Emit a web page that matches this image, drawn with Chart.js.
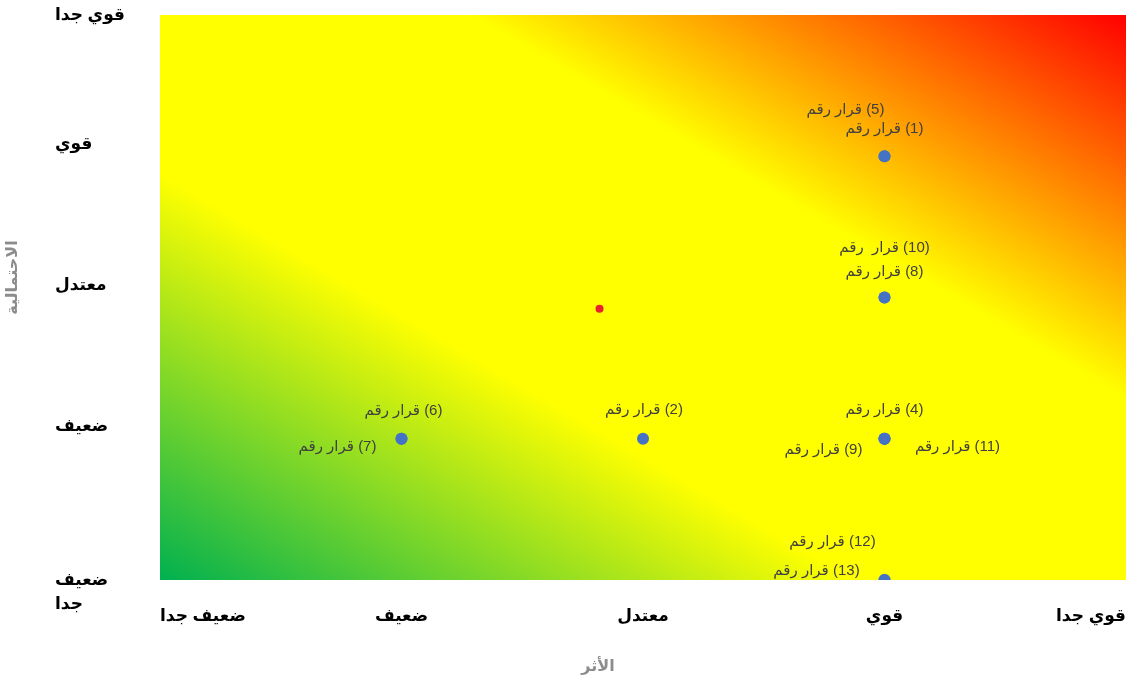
<!DOCTYPE html>
<html lang="ar">
<head>
<meta charset="utf-8">
<script src="https://cdn.jsdelivr.net/npm/chart.js@4/dist/chart.umd.min.js"></script>
<style>
  html, body { margin: 0; padding: 0; background: #ffffff; }
  #wrap { width: 1126px; height: 683px; }
</style>
</head>
<body>
<div id="wrap"><canvas id="c" width="1126" height="683"></canvas></div>
<script>
// ---- data ----
const xTickLabels = ['ضعيف جدا', 'ضعيف', 'معتدل', 'قوي', 'قوي جدا'];
const yTickLabels = ['ضعيف جدا', 'ضعيف', 'معتدل', 'قوي', 'قوي جدا'];
const xTitle = 'الأثر';
const yTitle = 'الاحتمالية';

const decisionLabels = [
  'قرار رقم (1)', 'قرار رقم (2)', 'قرار رقم (4)', 'قرار رقم (5)',
  'قرار رقم (6)', 'قرار رقم (7)', 'قرار رقم (8)', 'قرار رقم (9)',
  'قرار  رقم (10)', 'قرار رقم (11)', 'قرار رقم (12)', 'قرار رقم (13)'
];
const impactValues     = [4, 3, 4, 4, 2, 2, 4, 4, 4, 4, 4, 4];
const likelihoodValues = [4, 2, 2, 4, 2, 2, 3, 2, 3, 2, 1, 1];

const markerImpact = [2.82];
const markerLikelihood = [2.92];

// ---- label layout (pixel offsets of each text from its point) ----
const labelOffsets = [
  [0, -27], [1, -29], [0, -29], [-39, -46],
  [2, -28], [-64, 8], [0, -26], [-61, 11],
  [0, -50], [73, 8], [-52, -38], [-68, -9]
];

const decisionPoints = impactValues.map((x, i) => ({ x: x, y: likelihoodValues[i] }));
const markerPoints = markerImpact.map((x, i) => ({ x: x, y: markerLikelihood[i] }));

const bgPlugin = {
  id: 'riskBackground',
  beforeDatasetsDraw(chart) {
    const { ctx, chartArea: a } = chart;
    const W = a.right - a.left, H = a.bottom - a.top;
    const cx = a.left + W / 2, cy = a.top + H / 2;
    const d = Math.sqrt(W * W + H * H);
    const ux = H / d, uy = -W / d;
    const L = 2 * W * H / d;
    const g = ctx.createLinearGradient(cx - ux * L / 2, cy - uy * L / 2, cx + ux * L / 2, cy + uy * L / 2);
    g.addColorStop(0, '#00b050');
    g.addColorStop(0.36, '#ffff00');
    g.addColorStop(0.66, '#ffff00');
    g.addColorStop(1, '#ff0000');
    ctx.save();
    ctx.fillStyle = g;
    ctx.fillRect(a.left, a.top, W, H);
    ctx.restore();
  }
};

const labelPlugin = {
  id: 'decisionLabels',
  afterDatasetsDraw(chart) {
    const { ctx } = chart;
    const meta = chart.getDatasetMeta(0);
    ctx.save();
    ctx.font = '15px Arial, "Liberation Sans", "DejaVu Sans", sans-serif';
    ctx.fillStyle = '#404040';
    ctx.textAlign = 'center';
    ctx.textBaseline = 'middle';
    ctx.direction = 'ltr';
    meta.data.forEach((pt, i) => {
      const o = labelOffsets[i];
      // LRM keeps the number to the right of the Arabic words, as in the reference
      const txt = decisionLabels[i].replace(' (', ' \u200E(');
      ctx.fillText(txt, pt.x + o[0], pt.y + o[1]);
    });
    ctx.restore();
  }
};

const titlePlugin = {
  id: 'axisTitles',
  afterDraw(chart) {
    const { ctx, chartArea: a } = chart;
    ctx.save();
    ctx.font = 'bold 16px Arial, "Liberation Sans", "DejaVu Sans", sans-serif';
    ctx.fillStyle = '#8c8c8c';
    ctx.textAlign = 'center';
    ctx.textBaseline = 'middle';
    ctx.fillText(xTitle, (a.left + a.right) / 2 - 45, 667);
    ctx.translate(13, (a.top + a.bottom) / 2 - 20);
    ctx.rotate(-Math.PI / 2);
    ctx.fillText(yTitle, 0, 0);
    ctx.restore();
  }
};

const tickFont = { size: 17, weight: 'bold', lineHeight: 1.45, family: 'Arial, "Liberation Sans", "DejaVu Sans", sans-serif' };

new Chart(document.getElementById('c'), {
  type: 'scatter',
  data: {
    datasets: [
      {
        data: decisionPoints,
        backgroundColor: '#4472c4',
        borderColor: '#4472c4',
        pointRadius: 6,
        pointHoverRadius: 6,
        borderWidth: 0
      },
      {
        data: markerPoints,
        backgroundColor: '#e8222a',
        borderColor: '#e8222a',
        pointRadius: 4,
        pointHoverRadius: 4,
        borderWidth: 0
      }
    ]
  },
  options: {
    responsive: false,
    animation: false,
    events: [],
    layout: { autoPadding: false, padding: { top: 15, left: 55, right: 0, bottom: 0 } },
    plugins: { legend: { display: false }, tooltip: { enabled: false } },
    scales: {
      x: {
        type: 'linear',
        min: 1, max: 5,
        grid: { display: false },
        border: { display: false },
        afterFit(s) { s.height = 103; s.paddingLeft = 0; s.paddingRight = 0; },
        ticks: {
          stepSize: 1,
          align: 'inner',
          padding: 16,
          color: '#000000',
          font: tickFont,
          callback: (v) => xTickLabels[v - 1]
        }
      },
      y: {
        type: 'linear',
        min: 1, max: 5,
        grid: { display: false },
        border: { display: false },
        afterFit(s) { s.width = 105; s.paddingTop = 0; s.paddingBottom = 0; },
        ticks: {
          stepSize: 1,
          crossAlign: 'far',
          color: '#000000',
          font: tickFont,
          callback: (v) => {
            const t = yTickLabels[v - 1];
            if (v === 1) return [''].concat(t.split(' '));
            if (v === 5) return t;
            return [t, ''];
          }
        }
      }
    }
  },
  plugins: [bgPlugin, labelPlugin, titlePlugin]
});
</script>
</body>
</html>
